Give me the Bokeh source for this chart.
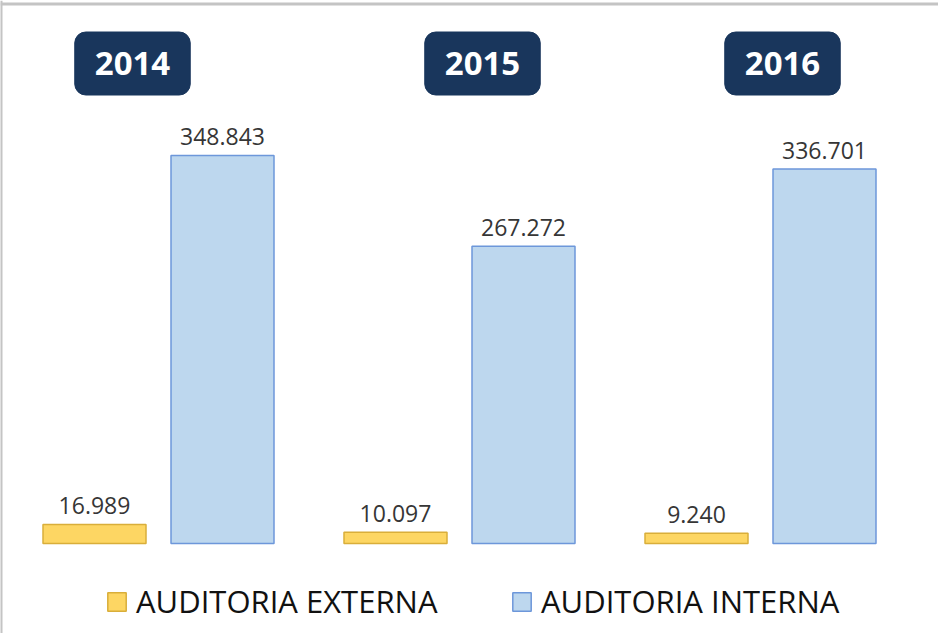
from bokeh.plotting import figure
from bokeh.models import Range1d, ColumnDataSource, Legend, LegendItem, BoxAnnotation
from bokeh.core.properties import value
from bokeh.embed import file_html
from bokeh.resources import INLINE

# ---- data ----
years = ["2014", "2015", "2016"]
externa = [16989, 10097, 9240]
interna = [348843, 267272, 336701]
series_names = ["AUDITORIA EXTERNA", "AUDITORIA INTERNA"]

# ---- layout constants ----
W, H = 938, 633
GROUP0_PX = 158.0      # x pixel of first group centre
GROUP_STEP = 301.0     # pixels between groups
BASE_PX = 543.0        # pixel row of the bar baseline (from top)
SCALE = 1.112e-3       # pixels per unit
BAR_W = 103.0 / GROUP_STEP
BAR_OFF = 64.0 / GROUP_STEP
YEAR_DX = [-26, 23, 22]
YEAR_ROW_PX = 63.0

x_start = -GROUP0_PX / GROUP_STEP
x_end = (W - GROUP0_PX) / GROUP_STEP
y_end = BASE_PX / SCALE
y_start = -(H - BASE_PX) / SCALE


def px_to_y(py):
    return (BASE_PX - py) / SCALE


def px_to_x(px):
    return (px - GROUP0_PX) / GROUP_STEP


def fmt(v):
    return f"{v:,}".replace(",", ".")


idx = list(range(len(years)))
src = ColumnDataSource(dict(
    idx=idx,
    x_ext=[i - BAR_OFF for i in idx],
    x_int=[i + BAR_OFF for i in idx],
    ext=externa,
    inte=interna,
    ext_lbl=[fmt(v) for v in externa],
    int_lbl=[fmt(v) for v in interna],
    year=years,
    year_dx=YEAR_DX,
    year_y=[px_to_y(YEAR_ROW_PX)] * len(years),
))

p = figure(width=W, height=H, output_backend="svg", toolbar_location=None,
           x_range=Range1d(x_start, x_end), y_range=Range1d(y_start, y_end),
           min_border=0)
p.xaxis.visible = False
p.yaxis.visible = False
p.xgrid.visible = False
p.ygrid.visible = False
p.outline_line_color = None
p.background_fill_color = "white"
p.border_fill_color = "white"

# grey frame lines (top and left)
p.add_layout(BoxAnnotation(top=px_to_y(2), bottom=px_to_y(5), fill_color="#c4c4c4",
                           fill_alpha=1, line_color=None))
p.add_layout(BoxAnnotation(left=px_to_x(-1), right=px_to_x(2), fill_color="#c4c4c4",
                           fill_alpha=1, line_color=None))

r_ext = p.vbar(x="x_ext", top="ext", bottom=0, width=BAR_W, source=src,
               fill_color="#FDD663", line_color="#D9AE3A", line_width=1.5)
r_int = p.vbar(x="x_int", top="inte", bottom=0, width=BAR_W, source=src,
               fill_color="#BDD7EE", line_color="#6D97DA", line_width=1.5)

for xcol, ycol, lcol in [("x_ext", "ext", "ext_lbl"), ("x_int", "inte", "int_lbl")]:
    p.text(x=xcol, y=ycol, text=lcol, source=src, text_align="center",
           text_baseline="alphabetic", y_offset=-19,
           text_font=value("Open Sans"), text_font_size="23px", text_color="#363636")

p.text(x="idx", y="year_y", text="year", source=src, x_offset="year_dx",
       text_align="center", text_baseline="middle",
       text_font=value("Open Sans"), text_font_style="bold", text_font_size="33px",
       text_color="white", background_fill_color="#19365C",
       border_line_color="#19365C", border_radius=11,
       padding=dict(left=20, right=20, top=20, bottom=20))

legend_x = [105, 510]
for name, rend, lx in zip(series_names, [r_ext, r_int], legend_x):
    lg = Legend(items=[LegendItem(label=name, renderers=[rend])],
                orientation="horizontal", location=(lx, 11),
                glyph_width=23, glyph_height=23, label_standoff=8,
                padding=0, margin=0, border_line_color=None, background_fill_alpha=0,
                label_text_font="Open Sans", label_text_font_size="31px",
                label_text_color="#111111")
    p.add_layout(lg)

open("out.html", "w").write(file_html(p, INLINE))
